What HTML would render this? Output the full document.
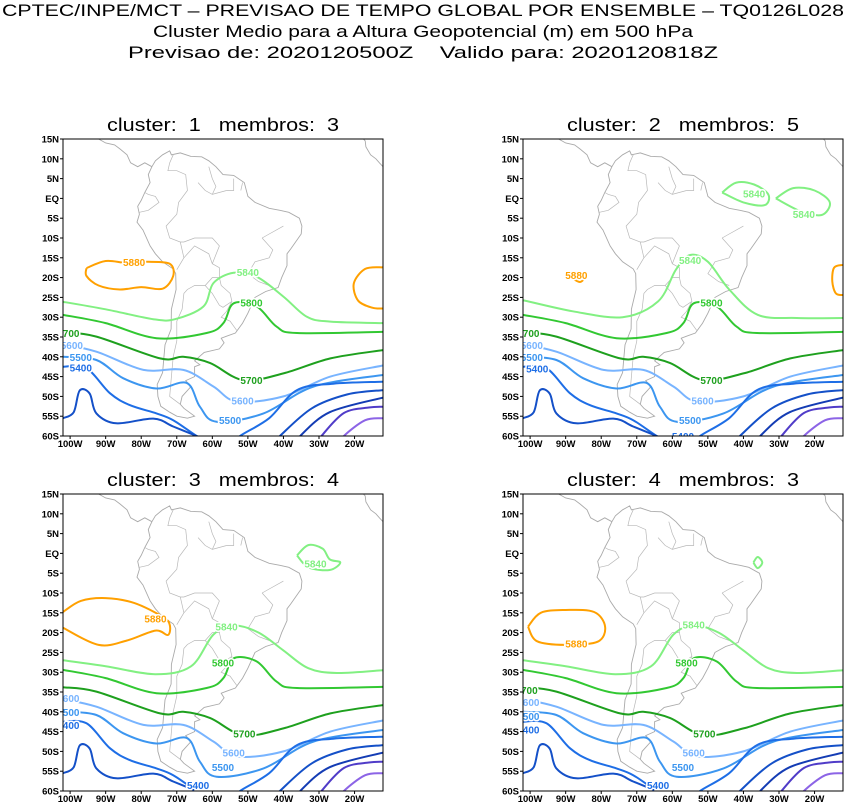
<!DOCTYPE html>
<html><head><meta charset="utf-8">
<style>
html,body{margin:0;padding:0;background:#fff;}
svg{display:block;font-family:"Liberation Sans",sans-serif;}
text{white-space:pre;}
</style></head>
<body>
<svg id="chart" width="847" height="803" viewBox="0 0 847 803">
<g font-size="17" fill="#000" text-anchor="middle">
<text x="423" y="16" textLength="842" lengthAdjust="spacingAndGlyphs">CPTEC/INPE/MCT – PREVISAO DE TEMPO GLOBAL POR ENSEMBLE – TQ0126L028</text>
<text x="423" y="37" textLength="540" lengthAdjust="spacingAndGlyphs">Cluster Medio para a Altura Geopotencial (m) em 500 hPa</text>
<text x="423" y="58" textLength="590" lengthAdjust="spacingAndGlyphs">Previsao de: 2020120500Z    Valido para: 2020120818Z</text>
</g>
</svg>
<script>
// ---- data ----
const panelTitles = ["cluster:\u00a0\u00a01\u00a0\u00a0\u00a0membros:\u00a0\u00a03","cluster:\u00a0\u00a02\u00a0\u00a0\u00a0membros:\u00a0\u00a05","cluster:\u00a0\u00a03\u00a0\u00a0\u00a0membros:\u00a0\u00a04","cluster:\u00a0\u00a04\u00a0\u00a0\u00a0membros:\u00a0\u00a03"];
const latTicks = [15,10,5,0,-5,-10,-15,-20,-25,-30,-35,-40,-45,-50,-55,-60];
const latLabels = ["15N","10N","5N","EQ","5S","10S","15S","20S","25S","30S","35S","40S","45S","50S","55S","60S"];
const lonTicks = [-100,-90,-80,-70,-60,-50,-40,-30,-20];
const lonLabels = ["100W","90W","80W","70W","60W","50W","40W","30W","20W"];
const levels = [5880,5840,5800,5700,5600,5500,5400,5300,5200,5100,5000];

const c5840 = [[-102,-26.1],[-90,-28],[-76.6,-30.5],[-70.5,-30.5],[-62.5,-27.3],[-59.7,-21.4],[-54,-18.8],[-47.5,-19.8],[-40,-24.8],[-33.4,-29.9],[-26.8,-31.1],[-12,-31.5]];
const c5800 = [[-102,-29.4],[-90,-31.5],[-75.7,-35.3],[-61.6,-34],[-56.9,-31.5],[-54,-26.5],[-47.5,-27.3],[-41.9,-32.4],[-36.2,-34],[-12,-33.7]];
const c5700 = [[-102,-33.8],[-92.6,-34.9],[-74.7,-40.4],[-68.2,-40],[-60.6,-41.6],[-51.3,-45.9],[-40,-44.2],[-26.8,-40.4],[-12,-38.3]];
const c5600 = [[-102,-36.8],[-92.6,-38.7],[-79.4,-43.3],[-68.2,-43.3],[-59.7,-47.5],[-53.1,-51.3],[-40,-50],[-26.8,-45],[-12,-42.2]];
const c5500 = [[-102,-40],[-92.6,-40.8],[-85.1,-45.4],[-75.7,-48],[-67.2,-46.6],[-63.5,-52.6],[-58.8,-56.4],[-45.6,-54.3],[-31.5,-47.5],[-12,-44.6]];
const c5400a = [[-102,-42.5],[-95.4,-42.9],[-88.8,-49.2],[-83.2,-52.2],[-75.7,-54.3],[-71,-56],[-64.4,-60],[-60,-62]];
const c5400b = [[-54,-62],[-52.2,-60],[-44,-55.5],[-36.2,-48.4],[-26,-46.8],[-12,-46.3]];
const c5300a = [[-102,-55.5],[-99,-54],[-97.3,-48.5],[-94.5,-49.3],[-92.6,-54.3],[-87,-56.8],[-76.6,-55.6],[-71,-57.6],[-64.4,-60],[-62,-61]];
const c5300b = [[-43,-62],[-41,-60],[-32,-53],[-22,-49.5],[-12,-48.4]];
const c5200 = [[-36.5,-62],[-35.3,-60],[-27,-54],[-12,-50.3]];
const c5100 = [[-30.5,-62],[-29.3,-60],[-23,-54.2],[-16,-52.8],[-12,-52.6]];
const c5000 = [[-24,-62],[-23,-60],[-17,-56],[-12,-55.5]];

const p1_5880 = [[-95.4,-17.6],[-90,-15.8],[-84,-16.3],[-78,-16],[-72,-16.5],[-71,-19.6],[-74,-22.8],[-80,-22.4],[-86,-23],[-92,-22],[-95.4,-19.6],[-95.4,-17.6]];
const p1_5880r = [[-12,-17.4],[-17,-17.8],[-20.2,-21.5],[-19,-25.8],[-15,-27.6],[-12,-27.8]];
const p2_5880a = [[-88.8,-19.8],[-86.5,-18.6],[-84.6,-19.6],[-86,-21.1],[-88.8,-19.8]];
const p2_5880r = [[-12,-16.8],[-14.5,-17.5],[-15,-21],[-14,-24],[-12,-24.4]];
const p2_5840a = [[-46,1.5],[-42,4],[-37,3.5],[-33,1],[-34,-1.7],[-40,-1],[-46,1.5]];
const p2_5840b = [[-30.9,0],[-26,2.6],[-20,2],[-15.7,-1],[-18,-4.2],[-24,-3.2],[-30.9,0]];
const p2_5840 = [[-102,-25.7],[-88,-28.5],[-74,-30],[-64,-26],[-59,-18],[-55,-14.3],[-50,-16],[-44,-23],[-36,-29.4],[-25,-30.2],[-12,-30.2]];
const p3_5880 = [[-102,-14.8],[-97,-12],[-90,-11.3],[-82,-12.5],[-74,-16],[-72,-18],[-72.5,-20.6],[-76,-19.5],[-84,-22],[-92,-23.1],[-102,-18.8]];
const p3_5840a = [[-36.2,-0.5],[-33,2.1],[-29,1.2],[-27,-1.5],[-24,-2.3],[-27,-4.2],[-33,-3.5],[-36.2,-0.5]];
const p4_5880 = [[-100.6,-18.5],[-97,-15],[-90,-14.3],[-82,-14.8],[-78.9,-18.5],[-81,-22.3],[-90,-23.1],[-98,-22.2],[-100.6,-18.5]];
const p4_5840a = [[-37.2,-2.3],[-36,-0.9],[-34.7,-2.3],[-36,-3.7],[-37.2,-2.3]];
const p34_5840 = [[-102,-27],[-90,-28.5],[-76,-30.5],[-66,-28.5],[-59.7,-20.5],[-54,-18.2],[-47,-20],[-40,-24.5],[-33,-29],[-25,-30.2],[-12,-29.5]];

const panelSeries = [
 [[0,p1_5880],[0,p1_5880r],[1,c5840],[2,c5800],[3,c5700],[4,c5600],[5,c5500],[6,c5400a],[6,c5400b],[7,c5300a],[7,c5300b],[8,c5200],[9,c5100],[10,c5000]],
 [[0,p2_5880a],[0,p2_5880r],[1,p2_5840a],[1,p2_5840b],[1,p2_5840],[2,c5800],[3,c5700],[4,c5600],[5,c5500],[6,c5400a],[6,c5400b],[7,c5300a],[7,c5300b],[8,c5200],[9,c5100],[10,c5000]],
 [[0,p3_5880],[1,p3_5840a],[1,p34_5840],[2,c5800],[3,c5700],[4,c5600],[5,c5500],[6,c5400a],[6,c5400b],[7,c5300a],[7,c5300b],[8,c5200],[9,c5100],[10,c5000]],
 [[0,p4_5880],[1,p4_5840a],[1,p34_5840],[2,c5800],[3,c5700],[4,c5600],[5,c5500],[6,c5400a],[6,c5400b],[7,c5300a],[7,c5300b],[8,c5200],[9,c5100],[10,c5000]]
];
const labelsP1 = [[0,-82,-16.1],[1,-50,-18.6],[2,-49,-26.3],[3,-100.5,-34],[4,-99.5,-37],[5,-97,-40.1],[6,-97,-42.7],[3,-49,-45.9],[4,-51.5,-51],[5,-55,-56]];
const labelsP2 = [[0,-87,-19.4],[1,-37,1.3],[1,-23,-4],[1,-55,-15.5],[2,-49,-26.3],[3,-100.5,-34],[4,-99.5,-37],[5,-99.5,-40.1],[6,-98,-43],[3,-49,-45.9],[4,-51.5,-51],[5,-55,-56],[6,-57,-60]];
const labelsP3 = [[0,-76,-16.5],[1,-31,-2.5],[1,-56,-18.5],[2,-57,-27.5],[3,-51,-45.5],[4,-100.5,-36.5],[5,-100.5,-40],[6,-100.5,-43.3],[4,-54,-50.3],[5,-57,-54],[6,-64,-58.5]];
const labelsP4 = [[0,-87,-22.8],[1,-54,-18],[2,-56,-27.5],[3,-101,-34.5],[3,-51,-45.5],[4,-100.5,-37.5],[5,-100.5,-41],[6,-100.5,-44.5],[4,-54,-50.3],[5,-57,-54],[6,-64,-58.5]];
const panelLabels = [labelsP1,labelsP2,labelsP3,labelsP4];

const coast = [[-77,8],[-79,9],[-81,8],[-83,9],[-84,11],[-86,12.5],[-87.5,13.5],[-90,14],[-92,15],[-94,16],[-96,15.8],[-98,16.5],[-102,17.5]];
const samerica = [[-77,8],[-78,6],[-77.5,4],[-79,1.5],[-80,-0.5],[-81,-2],[-80.5,-4],[-81.2,-6],[-79.5,-8],[-77.5,-12],[-76,-14],[-74,-16],[-71,-17.8],[-70.3,-19],[-70.2,-23],[-71.5,-28],[-71.6,-33],[-73.3,-37],[-73.7,-41],[-74,-44],[-75.5,-47],[-75.3,-50],[-74.5,-52.5],[-72,-54],[-70,-55],[-67,-55.5],[-65,-55],[-68,-53],[-69,-52],[-68.5,-50],[-66,-47.5],[-67.5,-46],[-65,-45],[-65,-42.5],[-63.5,-42],[-65,-41],[-62.3,-38.9],[-58,-38],[-56.7,-36.5],[-57.5,-35.3],[-56,-34.8],[-53.5,-34],[-51.5,-31.5],[-50,-29],[-48.5,-26],[-48,-25],[-45,-23.5],[-41.5,-22.5],[-40.5,-20],[-39,-17],[-39,-14],[-38,-12.8],[-35,-9],[-34.8,-7],[-35.5,-5],[-38.5,-3.5],[-41,-3],[-44,-2.5],[-48,-1],[-50,0.5],[-51,4],[-54,5.8],[-57,6],[-59,8],[-61,9.5],[-63,10.5],[-66,10.6],[-69,11.5],[-71.5,11],[-72,12],[-74,11],[-76,9.5],[-77,8]];
const africa = [[-17.5,15],[-17,14.5],[-16.8,13],[-15.5,11],[-14,10],[-13,9],[-12,8]];
const borders = [
 [[-70,-18],[-68,-15],[-69,-11],[-72,-10],[-73,-7],[-70,-4],[-69.5,-1],[-67,2],[-67.5,6],[-70,7],[-72.5,7],[-72,9],[-71,11]],
 [[-80.5,-3.5],[-78,-3],[-75,-1],[-76,0.5],[-78,1],[-79,1.5]],
 [[-68,-15],[-65,-12],[-61,-14],[-60,-16.5],[-58,-17.5],[-58,-20],[-60,-20],[-62,-22],[-65,-22],[-67,-23],[-68,-24],[-68.5,-28],[-70,-31],[-70,-36],[-71,-40],[-71.5,-45],[-72,-50],[-69,-52]],
 [[-58,-20],[-57.5,-22],[-55,-24],[-54.5,-26],[-57,-27.5],[-58,-27],[-60,-24],[-62,-22]],
 [[-54.5,-26],[-56,-28.5],[-57.5,-30],[-55,-31],[-53,-33.5]],
 [[-60,-16.5],[-58,-12],[-60,-10],[-65,-10],[-68,-11],[-69,-11]],
 [[-60,1],[-59,3],[-60,5],[-61,8]],[[-56,2],[-54,2],[-54,5]],[[-51.5,4],[-52,2]],
 [[-64,4],[-62,2],[-60,1],[-56,2]],
 [[-46,-10],[-43,-13],[-44,-15],[-48,-16],[-50,-19],[-47,-21],[-44,-22]],
 [[-40,-7],[-44,-9],[-46,-10]]
];

const colors = ["#ffa000","#82f082","#32c832","#1ea01e","#78b4ff","#3c96f0","#1e6ee6","#1450c8","#143cb4","#503cc8","#8c64e6"];

// ---- drawing ----
const NS = "http://www.w3.org/2000/svg";
const svg = document.getElementById("chart");
const origins = [[63,139],[523,139],[63,494],[523,494]];
const W = 320, H = 297;
function mk(tag, attrs, parent){ const e=document.createElementNS(NS,tag); for(const k in attrs) e.setAttribute(k,attrs[k]); parent.appendChild(e); return e; }
function smoothPath(pts){
  if(pts.length<2) return "";
  let d = "M"+pts[0][0].toFixed(1)+","+pts[0][1].toFixed(1);
  for(let i=0;i<pts.length-1;i++){
    const p0=pts[Math.max(0,i-1)],p1=pts[i],p2=pts[i+1],p3=pts[Math.min(pts.length-1,i+2)];
    const c1=[p1[0]+(p2[0]-p0[0])/6,p1[1]+(p2[1]-p0[1])/6];
    const c2=[p2[0]-(p3[0]-p1[0])/6,p2[1]-(p3[1]-p1[1])/6];
    d+=" C"+c1[0].toFixed(1)+","+c1[1].toFixed(1)+" "+c2[0].toFixed(1)+","+c2[1].toFixed(1)+" "+p2[0].toFixed(1)+","+p2[1].toFixed(1);
  }
  return d;
}
origins.forEach((o,pi)=>{
  const x0=o[0], y0=o[1];
  const xs = lon => x0 + (lon+102)*W/90;
  const ys = lat => y0 + (15-lat)*H/75;
  const g = mk("g",{},svg);
  
  
  const t = mk("text",{x:x0+W/2,y:y0-8,"font-size":18,"text-anchor":"middle",fill:"#000",textLength:232,lengthAdjust:"spacingAndGlyphs"},g);
  
  
  t.textContent = panelTitles[pi];
  const cid = "clip"+pi;
  const cp = mk("clipPath",{id:cid},g);
  mk("rect",{x:x0,y:y0,width:W,height:H},cp);
  const map = mk("g",{"clip-path":"url(#"+cid+")"},g);
  
  
  const proj = arr => arr.map(p=>[xs(p[0]),ys(p[1])]);
  const lin = arr => "M"+proj(arr).map(p=>p[0].toFixed(1)+","+p[1].toFixed(1)).join(" L");
  [samerica,coast,africa].forEach(c=>{
    const e=mk("path",{d:lin(c),fill:"none",stroke:"#aaa","stroke-width":0.9},map);
    
    
  });
  borders.forEach(b=>{
    const e=mk("path",{d:lin(b),fill:"none",stroke:"#b8b8b8","stroke-width":0.7},map);
    
    
  });
  panelSeries[pi].forEach(s=>{
    const lv=s[0];
    const e=mk("path",{d:smoothPath(proj(s[1])),fill:"none",stroke:colors[lv],"stroke-width":2},map);
    
    
  });
  panelLabels[pi].forEach(l=>{
    const lv=l[0];
    const tx=mk("text",{x:xs(l[1]),y:ys(l[2])+4,"font-size":10,"font-weight":"bold","text-anchor":"middle",fill:colors[lv],stroke:"#fff","stroke-width":3,"paint-order":"stroke"},map);
    
    
    tx.textContent=levels[lv];
  });
  const fr=mk("rect",{x:x0,y:y0,width:W,height:H,fill:"none",stroke:"#000","stroke-width":1},g);
  
  
  latTicks.forEach((lt,i)=>{
    const y=ys(lt);
    mk("line",{x1:x0-3,x2:x0,y1:y,y2:y,stroke:"#000","stroke-width":1},g);
    const tx=mk("text",{x:x0-4,y:y+3.5,"font-size":9.5,"font-weight":"bold","text-anchor":"end",fill:"#000"},g);
    
    
    tx.textContent=latLabels[i];
  });
  lonTicks.forEach((ln,i)=>{
    const x=xs(ln);
    mk("line",{x1:x,x2:x,y1:y0+H,y2:y0+H+3,stroke:"#000","stroke-width":1},g);
    const tx=mk("text",{x:x,y:y0+H+11,"font-size":9.5,"font-weight":"bold","text-anchor":"middle",fill:"#000"},g);
    
    
    tx.textContent=lonLabels[i];
  });
});
</script>
</body></html>
